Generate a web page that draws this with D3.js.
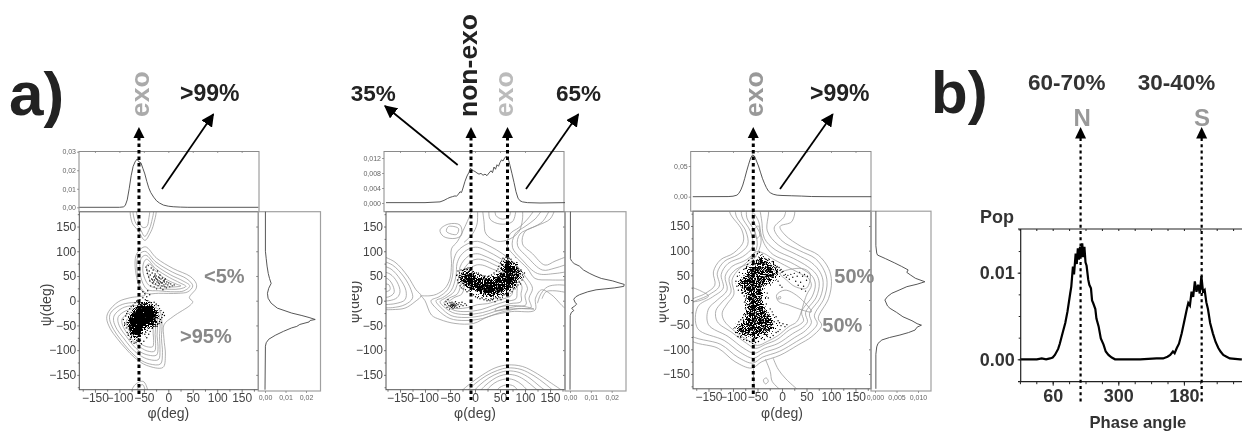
<!DOCTYPE html>
<html>
<head>
<meta charset="utf-8">
<script src="https://cdnjs.cloudflare.com/ajax/libs/d3/7.8.5/d3.min.js"></script>
<style>
    html, body { margin: 0; padding: 0; background: #fff; }
    svg { display: block; filter: blur(.4px); font-family: "Liberation Sans", Arial, sans-serif; }
    .contour { fill: none; stroke: #959595; stroke-width: .75; }
    .bold { font-weight: bold; }
    .small text { font-size: 7px; fill: #666; }
    .main text { font-size: 12px; fill: #444; }
</style>
</head>
<body>
<svg id="chart" width="1242" height="431"></svg>
<script>
// tick values
var angleMajor = [-150, -100, -50, 0, 50, 100, 150];
var angleMinor = [-175, -125, -75, -25, 25, 75, 125, 175];
var phaseTicks = [120, 90, 60, 30, 0, -30, -60, -90, -120, -150, -180, -210, -240, -270];
var phaseLabelled = [60, -60, -180];
var popTicks = [-0.0025, 0, 0.0025, 0.005, 0.0075, 0.01, 0.0125, 0.015];
var popLabelled = [0, 0.01];

// ---- panel 1 (phi, population) marginals
var top1 = [[-182,0],[-100,0],[-92,.0002],[-88,.001],[-84,.004],[-80,.01],[-76,.017],[-72,.022],[-68,.0245],[-64,.026],[-60,.0245],[-56,.024],[-52,.021],[-48,.018],[-44,.014],[-40,.0105],[-36,.008],[-30,.0055],[-24,.0035],[-18,.0023],[-10,.0012],[0,.0006],[10,.0003],[25,.0001],[40,0],[184,0]];
var right1 = [[180,.0002],[100,.0002],[85,.0006],[70,.001],[55,.0016],[45,.0022],[35,.003],[25,.0018],[15,.0012],[5,.0015],[-5,.003],[-15,.006],[-25,.013],[-30,.018],[-34,.0215],[-38,.0245],[-40,.022],[-43,.0215],[-48,.017],[-52,.0155],[-55,.013],[-62,.009],[-70,.005],[-78,.0018],[-85,.0006],[-92,.0002],[-180,0]];

var rings1 = [
    [[-122,-22],[-126,-36],[-119,-56],[-105,-76],[-88,-96],[-68,-116],[-44,-131],[-11,-135],[-6,-110],[-9,-76],[-9,-49],[10,-32],[45,-9],[50,-2],[43,6],[57,25],[57,35],[45,49],[10,65],[-24,86],[-47,109],[-64,96],[-68,72],[-58,25],[-47,12],[-78,6],[-102,-2]],
    [[-118,-25],[-120,-38],[-112,-58],[-98,-78],[-80,-100],[-60,-118],[-38,-128],[-16,-128],[-12,-105],[-14,-76],[-13,-45],[-18,-20],[-40,-8],[-75,-4],[-100,-10]],
    [[-110,-29],[-112,-40],[-105,-58],[-92,-75],[-76,-95],[-59,-110],[-39,-119],[-20,-119],[-17,-99],[-18,-73],[-17,-46],[-22,-24],[-41,-14],[-72,-10],[-94,-15]],
    [[-102,-32],[-103,-42],[-97,-57],[-86,-72],[-73,-89],[-58,-103],[-41,-110],[-24,-110],[-21,-93],[-23,-71],[-22,-47],[-26,-28],[-42,-19],[-69,-16],[-88,-21]],
    [[-94,-36],[-95,-44],[-90,-57],[-81,-70],[-69,-84],[-56,-95],[-42,-102],[-28,-102],[-26,-87],[-27,-68],[-26,-49],[-30,-33],[-44,-25],[-66,-22],[-82,-26]],
    [[-85,-39],[-86,-46],[-82,-57],[-75,-67],[-66,-78],[-55,-88],[-44,-93],[-32,-93],[-30,-81],[-31,-66],[-31,-50],[-33,-37],[-45,-31],[-63,-28],[-76,-32]],
    [[-62,90],[-48,100],[-25,78],[8,58],[38,44],[50,30],[40,18],[20,15],[-20,15],[-45,15],[-58,30],[-64,60]],
    [[-56,85],[-46,92],[-26,72],[5,52],[30,40],[44,30],[32,20],[12,18],[-20,20],[-42,22],[-52,35],[-58,60]],
    [[-50,78],[-44,84],[-26,65],[2,47],[24,36],[36,29],[24,24],[6,23],[-20,25],[-38,30],[-46,40],[-52,60]],
    [[-44,72],[-38,74],[-24,58],[-2,42],[18,33],[26,30],[14,28],[-4,28],[-22,31],[-34,36],[-40,48]],
    [[-75,190],[-74,158],[-62,142],[-48,122],[-38,135],[-30,155],[-27,190]],
    [[-70,190],[-68,160],[-58,146],[-48,130],[-40,142],[-34,160],[-32,190]],
    [[-64,190],[-60,160],[-52,148],[-44,150],[-40,165],[-40,190]],
    [[-76,-190],[-68,-170],[-52,-163],[-45,-172],[-43,-190]],
    [[-66,-190],[-60,-174],[-52,-170],[-48,-190]]
];
var core1 = [[-82,-42],[-80,-59],[-73,-73],[-58,-76],[-51,-59],[-43,-52],[-27,-46],[-20,-32],[-27,-15],[-41,-5],[-58,-5],[-68,-19],[-77,-29]];
var dots1 = [[-92,-38],[-89,-47],[-87,-31],[-86,-55],[-85,-26],[-84,-64],[-84,-44],[-83,-22],[-82,-70],[-81,-52],[-79,-16],[-78,-78],[-76,-12],[-75,-83],[-72,-9],[-70,-86],[-68,-4],[-66,-84],[-64,0],[-62,-82],[-60,-90],[-58,2],[-57,-80],[-55,-87],[-52,6],[-50,-82],[-48,-68],[-47,2],[-46,-64],[-44,-75],[-43,-60],[-42,0],[-40,-68],[-40,-56],[-38,-3],[-37,-62],[-36,-52],[-35,-4],[-33,-56],[-32,-50],[-30,-52],[-29,-3],[-27,-52],[-26,-49],[-25,-8],[-23,-52],[-22,-48],[-20,-10],[-19,-46],[-18,-16],[-18,-42],[-16,-38],[-15,-20],[-13,-34],[-12,-28],[-10,-24],[-14,-44],[-8,-30],
    [-46,68],[-44,62],[-43,55],[-41,71],[-40,48],[-39,60],[-38,40],[-37,52],[-36,30],[-35,66],[-34,44],[-33,56],[-32,36],[-31,62],[-30,48],[-29,28],[-28,42],[-27,54],[-26,34],[-25,50],[-24,24],[-24,44],[-23,38],[-22,60],[-21,30],[-20,48],[-19,40],[-18,34],[-17,52],[-16,26],[-15,44],[-14,36],[-13,30],[-12,46],[-11,22],[-10,40],[-9,32],[-8,38],[-7,28],[-6,44],[-5,34],[-4,26],[-3,38],[-1,32],[1,36],[3,28],[5,34],[8,30],[12,32],[-48,14],[-42,20],[-38,12],[-44,8],[-52,18],[-30,38],[-26,46],[-22,42],[-18,46],[-16,38],[-12,36],[-8,42],[-28,50],[-32,42],[-20,36]];

// ---- panel 2
var top2 = [[-178,.0001],[-100,.0001],[-70,.0003],[-62,.0007],[-55,.0012],[-50,.0015],[-45,.0017],[-40,.0019],[-37,.0018],[-33,.0024],[-30,.003],[-27,.0028],[-24,.004],[-20,.0058],[-16,.0072],[-12,.0082],[-9,.0093],[-6,.0088],[-3,.0086],[0,.0084],[4,.008],[8,.0077],[12,.0079],[16,.0074],[20,.0077],[24,.0073],[28,.008],[32,.0086],[35,.0081],[38,.0096],[41,.009],[44,.0102],[47,.0098],[50,.0108],[53,.0115],[56,.0112],[60,.0122],[63,.0124],[66,.012],[70,.01],[74,.0078],[78,.0055],[82,.003],[86,.0013],[90,.0006],[95,.0003],[105,.0001],[130,0],[180,.0001]];
var right2 = [[180,.0002],[85,.0002],[80,.0008],[75,.002],[70,.0045],[62,.0065],[55,.0095],[50,.012],[45,.015],[40,.0205],[36,.0235],[33,.026],[29,.0258],[26,.0215],[22,.0125],[18,.0085],[12,.0045],[8,.0028],[3,.0018],[-3,.0024],[-7,.0032],[-11,.0022],[-15,.0008],[-20,.0018],[-24,.0006],[-30,.0001],[-180,0]];

var rings2 = [
    [[-88,0],[-75,-18],[-50,-36],[-20,-40],[15,-36],[50,-24],[85,-16],[112,-14],[108,5],[115,25],[100,50],[80,75],[55,95],[30,110],[5,120],[-15,115],[-35,100],[-43,80],[-45,50],[-55,22],[-72,8]],
    [[-78,0],[-68,-14],[-48,-30],[-20,-34],[15,-30],[45,-20],[80,-12],[102,-8],[100,10],[105,25],[92,48],[72,70],[50,86],[25,100],[5,108],[-12,105],[-28,92],[-36,75],[-38,50],[-48,20],[-65,6]],
    [[-70,-2],[-60,-14],[-45,-24],[-20,-28],[15,-24],[40,-16],[70,-6],[92,-2],[92,14],[94,28],[85,45],[65,65],[45,78],[20,90],[5,95],[-10,92],[-22,82],[-30,68],[-32,48],[-42,18],[-58,6]],
    [[-62,-4],[-52,-14],[-40,-20],[-18,-22],[12,-18],[35,-10],[60,-2],[82,4],[84,18],[84,32],[76,48],[60,62],[40,72],[18,82],[4,84],[-8,80],[-18,70],[-25,58],[-27,40],[-35,14],[-50,6]],
    [[-55,-6],[-46,-14],[-34,-16],[-15,-14],[5,-8],[25,-6],[50,2],[72,10],[76,22],[76,34],[68,46],[55,56],[35,64],[15,72],[2,72],[-8,66],[-16,56],[-20,40],[-26,14],[-42,6]],
    [[-70,143],[-53,155],[-30,153],[-27,133],[-40,126],[-63,130]],
    [[-53,150],[-33,146],[-37,134],[-57,140]],
    [[40,-20],[70,-17],[100,-16],[118,-17],[100,-12],[70,-10],[45,-14]]
];
var lines2 = [
    [[-190,92],[-160,78],[-135,50],[-118,22],[-108,10],[-120,-2],[-140,-15],[-165,-18],[-190,-18]],
    [[-190,82],[-165,72],[-142,48],[-128,22],[-125,5],[-140,-8],[-165,-14],[-190,-14]],
    [[-190,72],[-168,64],[-150,44],[-138,20],[-140,2],[-160,-6],[-190,-8]],
    [[-190,60],[-170,54],[-156,38],[-150,18],[-156,6],[-172,0],[-190,0]],
    [[-190,48],[-174,44],[-164,30],[-162,16],[-172,8],[-190,6]],
    [[-180,34],[-172,32],[-170,22],[-178,18]],
    [[-108,10],[-90,10],[-77,13],[-60,25],[-50,45],[-47,75],[-47,105],[-35,120],[-20,150],[-5,185]],
    [[-108,10],[-100,0],[-87,-29],[-70,-38],[-40,-46],[-3,-46],[27,-32],[73,-22],[120,-19],[121,5],[133,22],[153,12],[180,-15],[190,-18]],
    [[160,185],[150,165],[125,152],[100,140],[95,115],[115,95],[140,72],[160,80],[190,92]],
    [[150,185],[135,160],[115,148],[90,135],[85,112],[105,88],[135,62],[160,66],[190,76]],
    [[135,185],[120,165],[100,150],[80,135],[75,108],[95,82],[125,55],[160,55],[190,60]],
    [[120,185],[105,165],[88,148],[70,135],[65,110],[80,90],[105,65],[120,45],[150,42],[190,42]],
    [[15,185],[18,160],[22,135],[45,120],[70,125],[88,140],[95,165],[95,185]],
    [[28,185],[30,165],[50,155],[75,160],[82,185]],
    [[40,185],[42,172],[55,165],[68,170],[72,185]],
    [[5,185],[4,155],[-5,135],[-22,118]],
    [[190,30],[165,32],[145,28],[132,14],[125,-5]],
    [[190,15],[160,20],[142,18],[134,4]],
    [[-30,-185],[-10,-168],[15,-150],[40,-136],[65,-130],[95,-133],[125,-148],[150,-165],[175,-182]],
    [[-18,-185],[0,-168],[22,-152],[45,-141],[65,-136],[92,-139],[118,-152],[140,-168],[160,-185]],
    [[-5,-185],[10,-170],[28,-156],[48,-146],[65,-142],[88,-145],[110,-157],[128,-172],[145,-185]],
    [[8,-185],[20,-172],[35,-160],[50,-152],[65,-149],[84,-152],[102,-162],[118,-175],[130,-185]],
    [[20,-185],[32,-172],[45,-163],[65,-158],[80,-161],[94,-170],[108,-185]],
    [[40,-185],[50,-175],[65,-170],[78,-173],[88,-185]]
];
var core2 = [[-30,54],[-13,60],[7,49],[33,44],[50,55],[55,76],[70,82],[83,69],[93,52],[80,33],[60,17],[33,8],[7,17],[-17,28],[-30,40]];
var dots2 = [[-36,52],[-35,42],[-34,60],[-33,36],[-32,48],[-31,56],[-30,30],[-29,44],[-28,62],[-27,26],[-26,54],[-24,24],[-23,62],[-22,32],[-20,64],[-19,22],[-17,64],[-16,18],[-14,66],[-12,20],[-10,62],[-8,14],[-5,58],[-3,12],[-1,56],[1,8],[3,56],[5,6],[7,54],[10,4],[12,52],[14,6],[16,50],[18,2],[20,50],[22,4],[24,0],[25,48],[27,2],[28,50],[30,0],[32,4],[33,52],[35,2],[37,4],[38,56],[40,-2],[42,6],[43,60],[45,4],[46,64],[47,8],[48,70],[50,6],[51,76],[52,2],[53,80],[55,10],[56,86],[58,12],[59,84],[61,14],[62,88],[64,10],[65,86],[66,16],[68,86],[70,20],[72,84],[74,18],[75,78],[77,24],[78,76],[80,24],[81,72],[83,28],[84,68],[86,32],[87,64],[88,38],[90,60],[91,34],[92,62],[94,42],[95,52],[97,48],[99,56],
    [-26,46],[-24,38],[-20,52],[-18,42],[-16,34],[-14,50],[-12,40],[-9,54],[-8,32],[-6,44],[-3,26],[-2,38],[0,50],[2,30],[4,20],[6,42],[8,26],[10,36],[12,18],[14,44],[16,28],[18,14],[20,38],[22,24],[24,42],[26,16],[28,34],[30,12],[32,40],[34,22],[36,14],[38,36],[40,26],[42,44],[44,18],[46,38],[48,28],[50,46],[52,20],[54,36],[56,60],[58,26],[60,70],[62,40],[64,62],[66,30],[68,74],[70,44],[72,60],[74,36],[76,66],[78,46],[80,56],[82,40],[84,48],
    [-60,-8],[-58,-2],[-56,-14],[-55,-6],[-54,2],[-52,-10],[-51,-17],[-50,-4],[-49,-11],[-48,-7],[-47,-14],[-46,-9],[-46,-3],[-45,-12],[-44,-7],[-44,-16],[-43,-10],[-42,-5],[-41,-13],[-40,-8],[-39,-2],[-38,-10],[-37,-6],[-36,-14],[-34,-8],[-32,-4],[-31,-12],[-28,-8],[-26,-3],[-24,-10],[-20,-6],[-17,-9],[-44,-9],[-42,-9],[-46,-7],[-40,-11],[-48,-10]];

// ---- panel 3
var top3 = [[-182,0],[-110,.0002],[-100,.0008],[-92,.0025],[-88,.0055],[-84,.011],[-80,.019],[-76,.03],[-72,.042],[-68,.053],[-64,.063],[-60,.068],[-56,.066],[-52,.058],[-48,.05],[-44,.04],[-40,.03],[-36,.022],[-32,.015],[-28,.0095],[-24,.0065],[-18,.004],[-10,.0025],[0,.002],[20,.0015],[40,.001],[60,.0003],[100,0],[182,0]];
var right3 = [[180,.0002],[110,.0002],[95,.0004],[91,.0006],[84,.0024],[75,.0046],[68,.0062],[61,.0077],[56,.0074],[51,.0082],[44,.0094],[37,.0116],[32,.0098],[27,.0074],[20,.0056],[13.6,.0039],[7,.0029],[0,.0023],[-6,.0026],[-12,.0029],[-17,.0035],[-25,.005],[-34,.0065],[-42,.0086],[-48,.0098],[-51,.0108],[-55,.0098],[-61,.0093],[-66,.0078],[-71,.0058],[-76,.0034],[-81,.0016],[-88,.0007],[-95,.0004],[-110,.0002],[-180,.0002]];

var rings3 = [
    [[-106,190],[-106,176],[-82,142],[-79,118],[-99,95],[-126,81],[-140,57],[-137,30],[-157,13],[-190,-5],[-190,-78],[-130,-98],[-96,-125],[-62,-138],[-41,-125],[-4,-112],[33,-91],[61,-74],[81,-51],[74,-37],[95,3],[101,37],[95,64],[74,91],[40,108],[6,132],[-4,149],[20,159],[23,190]],
    [[-92,190],[-94,172],[-74,140],[-70,112],[-90,92],[-118,78],[-132,55],[-128,28],[-150,10],[-190,-12],[-190,-68],[-125,-90],[-90,-116],[-60,-128],[-40,-116],[-5,-104],[30,-84],[55,-68],[72,-48],[66,-32],[86,4],[92,36],[86,60],[68,84],[36,100],[0,120],[-16,146],[5,170],[5,190]],
    [[-80,190],[-82,170],[-64,138],[-60,108],[-80,88],[-110,74],[-124,52],[-120,24],[-142,6],[-172,-14],[-172,-58],[-118,-82],[-84,-107],[-58,-118],[-38,-107],[-6,-96],[26,-76],[48,-62],[60,-46],[56,-28],[78,5],[84,35],[78,56],[60,76],[30,92],[-8,112],[-30,140],[-30,190]],
    [[-70,185],[-72,168],[-54,135],[-52,104],[-72,82],[-102,68],[-116,48],[-112,20],[-132,0],[-150,-18],[-150,-50],[-110,-74],[-78,-98],[-56,-108],[-36,-98],[-8,-88],[22,-68],[42,-56],[52,-44],[48,-26],[70,6],[76,34],[70,52],[52,68],[24,84],[-14,102],[-36,125],[-42,165],[-48,185]],
    [[-60,178],[-58,160],[-44,132],[-44,110],[-62,78],[-94,62],[-108,44],[-104,16],[-122,-4],[-135,-22],[-132,-44],[-102,-66],[-72,-88],[-54,-98],[-34,-90],[-10,-80],[16,-60],[36,-50],[44,-42],[40,-24],[62,8],[68,32],[62,48],[46,60],[18,76],[-18,92],[-34,110],[-42,130],[-48,160]],
    [[-52,98],[-68,80],[-92,58],[-102,40],[-98,12],[-112,-8],[-122,-26],[-118,-42],[-98,-62],[-66,-84],[-50,-92],[-30,-84],[-8,-72],[14,-54],[28,-46],[34,-38],[50,10],[60,30],[54,44],[40,52],[14,66],[-20,84],[-36,94]],
    [[-4,54],[40,64],[57,54],[50,24],[27,27],[10,40]],
    [[-11,10],[6,20],[33,7],[60,-24],[40,-20],[13,-10],[-7,-3]],
    [[-55,145],[-48,150],[-46,130],[-52,125]],
    [[-38,-162],[-32,-158],[-28,-165],[-34,-170]],
    [[-8,5],[-3,7],[-3,3],[-8,2]]
];
var lines3 = [
    [[-190,28],[-165,18],[-150,8],[-170,-2],[-190,-4]],
    [[-58,-138],[-58,-160],[-55,-185]],
    [[-18,-118],[-8,-140],[8,-160],[30,-180]],
    [[-34,-120],[-24,-145],[-20,-165],[0,-185]]
];
var core3 = [[-62,71],[-41,88],[-21,71],[-7,57],[-18,40],[-38,30],[-41,10],[-38,-17],[-24,-37],[-14,-51],[-31,-68],[-58,-78],[-89,-68],[-92,-58],[-75,-41],[-69,-17],[-72,10],[-86,27],[-86,40],[-72,54]];
var dots3 = [[-94,38],[-92,28],[-91,48],[-89,20],[-87,56],[-86,32],[-82,14],[-78,62],[-77,8],[-75,64],[-74,2],[-72,68],[-70,72],[-76,-4],[-74,-10],[-68,80],[-74,-18],[-72,-26],[-61,84],[-78,-30],[-80,-36],[-57,92],[-50,94],[-46,97],[-41,92],[-38,88],[-35,84],[-32,82],[-29,80],[-26,82],[-20,78],[-17,72],[-14,70],[-12,66],[-10,68],[-6,66],[-4,60],[-2,62],[0,56],[2,58],[4,50],[7,52],[9,46],[12,50],[15,42],[18,52],[22,46],[25,54],[28,38],[31,48],[33,30],[36,56],[38,36],[40,22],[42,48],[44,28],[46,52],[48,18],[50,40],[52,48],[-8,38],[-4,30],[0,26],[-30,14],[-28,4],[-32,-8],[-24,-18],[-20,-24],[-18,-30],[-12,-34],[-8,-42],[-5,-46],[-2,-52],[2,-48],[6,-54],[10,-50],[-4,-60],[-8,-64],[-12,-66],[-18,-72],[-24,-76],[-30,-74],[-36,-80],[-42,-78],[-48,-84],[-54,-86],[-60,-88],[-66,-84],[-72,-82],[-78,-80],[-84,-76],[-90,-74],[-94,-66],[-96,-56],[-90,-50],[-88,-44],[-84,-40],
    [-82,34],[-80,24],[-78,44],[-76,18],[-74,36],[-72,26],[-70,50],[-68,14],[-66,38],[-64,60],[-64,22],[-62,2],[-60,46],[-60,-10],[-58,30],[-58,72],[-56,12],[-56,-22],[-54,56],[-54,-34],[-52,38],[-52,80],[-50,0],[-50,-46],[-48,66],[-48,20],[-46,-16],[-46,-56],[-44,44],[-44,76],[-42,-30],[-42,4],[-40,58],[-40,-42],[-38,70],[-38,-54],[-36,44],[-36,-24],[-34,60],[-34,-66],[-32,74],[-32,-38],[-30,52],[-30,-50],[-28,66],[-28,-60],[-26,42],[-26,-30],[-24,58],[-24,-46],[-22,70],[-22,-56],[-20,48],[-18,62],[-16,-44],[-14,52],[-12,60],[-60,-60],[-62,-46],[-64,-70],[-66,-54],[-68,-40],[-70,-62],[-72,-50],[-74,-72],[-76,-58],[-78,-44],[-80,-66],[-82,-52],[-84,-62],[-86,-54]];

// ---- panel b
var phaseCurve = [[120,0],[89,0],[80,.0001],[72,0],[65,.0001],[60,.0002],[56,.0005],[50,.0012],[47,.0018],[42,.003],[37,.0042],[33,.0055],[28,.0076],[26,.0084],[23,.0107],[21,.0098],[18,.0122],[16,.011],[14,.0128],[12,.0115],[10,.013],[8,.0118],[6,.0134],[4,.0118],[2,.013],[0,.0112],[-2,.0108],[-5,.0092],[-7,.0086],[-10,.0082],[-12,.0068],[-14,.0065],[-18,.0058],[-20,.0047],[-24,.0038],[-28,.0024],[-33,.0017],[-37,.0009],[-42,.0005],[-48,.0002],[-54,0],[-100,0],[-130,.0001],[-142,.0001],[-150,.0003],[-155,.0005],[-160,.0009],[-163,.0007],[-167,.0013],[-171,.0018],[-176,.003],[-180,.0042],[-185,.0057],[-188,.0065],[-191,.0062],[-194,.0078],[-197,.0072],[-200,.009],[-203,.0078],[-206,.0086],[-209,.0076],[-212,.0096],[-215,.0078],[-218,.008],[-221,.0066],[-224,.0058],[-228,.0042],[-233,.003],[-238,.002],[-243,.0013],[-247,.0009],[-252,.0005],[-258,.0003],[-264,.0001],[-283,0],[-286,0]];

var svg = d3.select('#chart');
var line = d3.line().curve(d3.curveCatmullRom);
var ring = d3.line().curve(d3.curveCatmullRomClosed);
var commaFormat = function(f) {
    return function(d) { return d3.format(f)(d).replace('.', ','); };
};

// grainy edge for the dense middle of each point cloud
function addGrain(id, offset) {
    var f = svg.append('defs').append('filter').attr('id', id)
        .attr('x', '-25%').attr('y', '-25%').attr('width', '150%').attr('height', '150%');
    f.append('feTurbulence').attr('type', 'fractalNoise').attr('baseFrequency', .9)
        .attr('numOctaves', 2).attr('seed', 4).attr('result', 'n');
    f.append('feDisplacementMap').attr('in', 'SourceGraphic').attr('in2', 'n').attr('scale', 16)
        .attr('xChannelSelector', 'R').attr('yChannelSelector', 'G').attr('result', 'd');
    f.append('feColorMatrix').attr('in', 'n').attr('type', 'matrix')
        .attr('values', '0 0 0 0 0  0 0 0 0 0  0 0 0 0 0  0 0 0 12 ' + offset).attr('result', 'm');
    f.append('feComposite').attr('in', 'd').attr('in2', 'm').attr('operator', 'in');
}
addGrain('grain0', -2.2);
addGrain('grain1', -4.0);
addGrain('grain2', -4.7);

function drawPanel(p, i) {
    var x = d3.scaleLinear().domain(p.xDomain).range(p.xRange);
    var y = d3.scaleLinear().domain([-180, 180]).range(p.yRange);
    var yTop = d3.scaleLinear().domain(p.topDomain).range(p.topRange);
    var xRight = d3.scaleLinear().domain(p.rightDomain).range(p.rightRange);
    var g = svg.append('g').attr('id', 'panel' + i);

    // clip for the contours
    var clip = 'plot' + i;
    svg.append('clipPath').attr('id', clip).append('rect')
        .attr('x', p.xRange[0]).attr('y', p.yRange[1])
        .attr('width', p.xRange[1] - p.xRange[0]).attr('height', p.yRange[0] - p.yRange[1]);

    var plot = g.append('g').attr('clip-path', 'url(#' + clip + ')');
    var toPx = function(d) { return [x(d[0]), y(d[1])]; };
    plot.selectAll('path.r').data(p.rings).enter().append('path')
        .attr('class', 'contour r')
        .attr('d', function(d) { return ring(d.map(toPx)); });
    plot.selectAll('path.l').data(p.lines).enter().append('path')
        .attr('class', 'contour l')
        .attr('d', function(d) { return line(d.map(toPx)); });
    plot.append('path')
        .attr('d', d3.line()(p.core.map(toPx)) + 'Z')
        .attr('fill', '#000').attr('filter', 'url(#grain' + i + ')');
    plot.selectAll('circle').data(p.dots).enter().append('circle')
        .attr('cx', function(d) { return x(d[0]); })
        .attr('cy', function(d) { return y(d[1]); })
        .attr('r', .7)
        .attr('fill', '#000');

    // main axes
    var axes = g.append('g').attr('class', 'main');
    axes.append('rect')
        .attr('x', p.xRange[0]).attr('y', p.yRange[1])
        .attr('width', p.xRange[1] - p.xRange[0]).attr('height', p.yRange[0] - p.yRange[1])
        .attr('fill', 'none').attr('stroke', '#555');
    axes.append('g').attr('transform', 'translate(0,' + p.yRange[0] + ')')
        .call(d3.axisBottom(x).tickValues(angleMajor).tickSize(3).tickPadding(1));
    axes.append('g').attr('transform', 'translate(' + p.xRange[0] + ',0)')
        .call(d3.axisLeft(y).tickValues(angleMajor).tickSize(2).tickPadding(1));
    axes.append('g').attr('transform', 'translate(0,' + p.yRange[0] + ')')
        .call(d3.axisBottom(x).tickValues(angleMinor).tickSize(2).tickFormat(''));
    axes.append('g').attr('transform', 'translate(' + p.xRange[0] + ',0)')
        .call(d3.axisLeft(y).tickValues(angleMinor).tickSize(1.5).tickFormat(''));
    axes.append('g').attr('transform', 'translate(' + p.xRange[1] + ',0)')
        .call(d3.axisLeft(y).tickValues(angleMajor).tickSize(2).tickFormat(''));
    axes.selectAll('.domain').attr('stroke', 'none');
    axes.selectAll('.tick line').attr('stroke', '#555').attr('stroke-width', .8);

    // top marginal
    var top = g.append('g').attr('class', 'small');
    top.append('rect')
        .attr('x', p.topBox[0]).attr('y', 151.5)
        .attr('width', p.topBox[1] - p.topBox[0]).attr('height', p.yRange[1] - 151.5)
        .attr('fill', 'none').attr('stroke', '#8a8a8a');
    top.append('g').attr('transform', 'translate(' + p.topBox[0] + ',0)')
        .call(d3.axisLeft(yTop).tickValues(p.topTicks).tickSize(2).tickPadding(1).tickFormat(commaFormat(p.topFormat)));
    top.append('g').attr('transform', 'translate(0,151.5)')
        .call(d3.axisBottom(x).tickValues(angleMajor).tickSize(1.5).tickFormat(''));
    top.selectAll('.domain').attr('stroke', 'none');
    top.selectAll('.tick line').attr('stroke', '#777').attr('stroke-width', .7);
    top.append('path')
        .attr('d', d3.line().x(function(d) { return x(d[0]); }).y(function(d) { return yTop(d[1]); })(p.top))
        .attr('fill', 'none').attr('stroke', '#444').attr('stroke-width', .9);

    // right marginal
    var right = g.append('g').attr('class', 'small');
    right.append('rect')
        .attr('x', p.xRange[1]).attr('y', p.yRange[1])
        .attr('width', p.rightEnd - p.xRange[1]).attr('height', 391 - p.yRange[1])
        .attr('fill', 'none').attr('stroke', '#a0a0a0').attr('stroke-width', 1.2);
    right.append('g').attr('transform', 'translate(0,391)')
        .call(d3.axisBottom(xRight).tickValues(p.rightTicks).tickSize(2).tickPadding(2).tickFormat(commaFormat(p.rightFormat)));
    right.selectAll('.domain').attr('stroke', 'none');
    right.selectAll('.tick line').attr('stroke', '#777').attr('stroke-width', .7);
    right.append('path')
        .attr('d', d3.line().x(function(d) { return xRight(d[1]); }).y(function(d) { return y(d[0]); })(p.right))
        .attr('fill', 'none').attr('stroke', '#444').attr('stroke-width', .9);

    // axis titles
    g.append('text').text('φ(deg)')
        .attr('x', x(0)).attr('y', 418)
        .attr('text-anchor', 'middle')
        .attr('font-size', 14).attr('fill', '#444');
    var psi = g.append('text').text('ψ(deg)')
        .attr('transform', 'translate(' + p.psiLabel[0] + ',' + p.psiLabel[1] + ')rotate(-90)')
        .attr('text-anchor', 'middle')
        .attr('font-size', 14).attr('fill', '#444');
    if (p.psiClip) {
        // the top of these two titles is cut off in the figure
        svg.append('clipPath').attr('id', 'psi' + i).append('rect')
            .attr('x', p.psiClip).attr('y', 270).attr('width', 30).attr('height', 70);
        g.append('g').attr('clip-path', 'url(#psi' + i + ')').node().appendChild(psi.node());
    }

    // dashed marker lines
    p.markers.forEach(function(m) {
        var mx = x(m);
        svg.append('line')
            .attr('x1', mx).attr('x2', mx).attr('y1', 137).attr('y2', p.markerEnd)
            .attr('stroke', '#000').attr('stroke-width', 3).attr('stroke-dasharray', '3.5,3');
        svg.append('path')
            .attr('d', d3.line()([[mx, 127], [mx + 5.5, 138], [mx - 5.5, 138]]) + 'Z')
            .attr('fill', '#000');
    });
}

var panels = [
    {xDomain: [-182, 184], xRange: [79.3, 258.3], yRange: [389.7, 211.7],
     topDomain: [0, .03], topRange: [207.3, 151.7], topTicks: [0, .01, .02, .03], topFormat: '.2f', topBox: [79, 259],
     rightDomain: [0, .02], rightRange: [265, 306], rightTicks: [0, .01, .02], rightFormat: '.2f', rightEnd: 320.5,
     rings: rings1, lines: [], core: core1, dots: dots1, top: top1, right: right1,
     psiLabel: [51, 305], psiClip: null, markers: [-60], markerEnd: 397},
    {xDomain: [-178, 180], xRange: [386, 565], yRange: [389.7, 211.7],
     topDomain: [0, .012], topRange: [203, 158], topTicks: [0, .004, .008, .012], topFormat: '.3f', topBox: [384, 564],
     rightDomain: [0, .02], rightRange: [570, 611.7], rightTicks: [0, .01, .02], rightFormat: '.2f', rightEnd: 626,
     rings: rings2, lines: lines2, core: core2, dots: dots2, top: top2, right: right2,
     psiLabel: [358.5, 302], psiClip: 352, markers: [-8, 65], markerEnd: 400},
    {xDomain: [-181.6, 181.6], xRange: [693, 871], yRange: [388.8, 211.2],
     topDomain: [0, .05], topRange: [196.7, 166], topTicks: [0, .05], topFormat: '.2f', topBox: [690.7, 871],
     rightDomain: [0, .01], rightRange: [875, 918], rightTicks: [0, .005, .01], rightFormat: '.3f', rightEnd: 931,
     rings: rings3, lines: lines3, core: core3, dots: dots3, top: top3, right: right3,
     psiLabel: [666, 302], psiClip: 659.5, markers: [-58.6], markerEnd: 394}
];
panels.forEach(drawPanel);

// panel b
var xPhase = d3.scaleLinear().domain([60, -60]).range([1052.7, 1118.3]);
var yPop = d3.scaleLinear().domain([0, .01]).range([359.3, 272.7]);
var b = svg.append('g').attr('id', 'panelb');
var bFont = function(sel) {
    sel.selectAll('text').attr('font-size', 18).attr('font-weight', 'bold').attr('fill', '#333');
    sel.selectAll('.domain').attr('stroke', 'none');
    sel.selectAll('.tick line').attr('stroke', '#222');
};
b.append('path')
    .attr('d', d3.line().x(function(d) { return xPhase(d[0]); }).y(function(d) { return yPop(d[1]); })(phaseCurve))
    .attr('fill', 'none').attr('stroke', '#000').attr('stroke-width', 2.2);
b.append('line').attr('x1', 1018).attr('x2', 1242).attr('y1', 229).attr('y2', 229).attr('stroke', '#222').attr('stroke-width', 1.2);
b.append('line').attr('x1', 1018).attr('x2', 1242).attr('y1', 381.7).attr('y2', 381.7).attr('stroke', '#222').attr('stroke-width', 1.2);
b.append('line').attr('x1', 1020.7).attr('x2', 1020.7).attr('y1', 229).attr('y2', 381.7).attr('stroke', '#222').attr('stroke-width', 1.2);
b.append('g').attr('transform', 'translate(0,381.7)')
    .call(d3.axisBottom(xPhase).tickValues(phaseTicks).tickSize(2.5).tickFormat(''))
    .call(bFont);
b.append('g').attr('transform', 'translate(0,381.7)')
    .call(d3.axisBottom(xPhase).tickValues(phaseLabelled).tickSize(4).tickPadding(4)
        .tickFormat(function(d) { return (d + 360) % 360; }))
    .call(bFont);
b.append('g').attr('transform', 'translate(0,229)')
    .call(d3.axisBottom(xPhase).tickValues(phaseTicks).tickSize(2).tickFormat(''))
    .call(bFont);
b.append('g').attr('transform', 'translate(1020.7,0)')
    .call(d3.axisLeft(yPop).tickValues(popTicks).tickSize(2).tickFormat(''))
    .call(bFont);
b.append('g').attr('transform', 'translate(1020.7,0)')
    .call(d3.axisLeft(yPop).tickValues(popLabelled).tickSize(3).tickPadding(3).tickFormat(d3.format('.2f')))
    .call(bFont);
[9, -212.5].forEach(function(u) {
    var mx = xPhase(u);
    b.append('line')
        .attr('x1', mx).attr('x2', mx).attr('y1', 138).attr('y2', 402)
        .attr('stroke', '#000').attr('stroke-width', 2.2).attr('stroke-dasharray', '3,3.2');
    b.append('path')
        .attr('d', d3.line()([[mx, 127], [mx + 5.5, 138.5], [mx - 5.5, 138.5]]) + 'Z')
        .attr('fill', '#000');
});

// population arrows
svg.append('defs').append('marker')
    .attr('id', 'head').attr('viewBox', '0 0 10 10').attr('refX', 9).attr('refY', 5)
    .attr('markerUnits', 'userSpaceOnUse').attr('markerWidth', 13).attr('markerHeight', 13).attr('orient', 'auto')
    .append('path').attr('d', 'M0,0L10,5L0,10Z').attr('fill', '#000');
var arrows = [[162, 189, 213.3, 114.3], [457.7, 165, 385, 106], [526, 189, 578.3, 114.3], [780, 189, 832.7, 114.3]];
svg.selectAll('line.arrow').data(arrows).enter().append('line')
    .attr('class', 'arrow')
    .attr('x1', function(d) { return d[0]; }).attr('y1', function(d) { return d[1]; })
    .attr('x2', function(d) { return d[2]; }).attr('y2', function(d) { return d[3]; })
    .attr('stroke', '#000').attr('stroke-width', 1.8).attr('marker-end', 'url(#head)');

// labels: text, x, baseline, size, colour
var labels = [
    ['a)', 9, 115, 62, '#222'], ['b)', 931, 113, 60, '#222'],
    ['>99%', 180, 101, 23, '#222'], ['35%', 350.7, 101, 22.5, '#222'], ['65%', 556, 101, 22.5, '#222'], ['>99%', 810, 101, 23, '#222'],
    ['<5%', 204, 283.3, 20, '#888'], ['>95%', 180, 343, 20, '#888'],
    ['50%', 834.3, 283, 20, '#888'], ['50%', 822.3, 331.7, 20, '#888'],
    ['60-70%', 1028, 90, 22.5, '#333'], ['30-40%', 1137.7, 90, 22.5, '#333'],
    ['N', 1073.5, 126, 24, '#999'], ['S', 1194, 126, 24, '#999'],
    ['Pop', 980, 222.7, 18, '#333'], ['Phase angle', 1089.5, 427.7, 16.6, '#333']
];
svg.selectAll('text.lab').data(labels).enter().append('text')
    .attr('class', 'lab bold')
    .text(function(d) { return d[0]; })
    .attr('x', function(d) { return d[1]; })
    .attr('y', function(d) { return d[2]; })
    .attr('font-size', function(d) { return d[3]; })
    .attr('fill', function(d) { return d[4]; });

// rotated labels: text, x baseline, y start, colour
var vertical = [['exo', 149, 117, '#aaa'], ['non-exo', 476.7, 117, '#222'], ['exo', 513, 117, '#bbb'], ['exo', 763, 117, '#999']];
svg.selectAll('text.vert').data(vertical).enter().append('text')
    .attr('class', 'vert bold')
    .text(function(d) { return d[0]; })
    .attr('transform', function(d) { return 'translate(' + d[1] + ',' + d[2] + ')rotate(-90)'; })
    .attr('font-size', 26.5)
    .attr('fill', function(d) { return d[3]; });
</script>
</body>
</html>
